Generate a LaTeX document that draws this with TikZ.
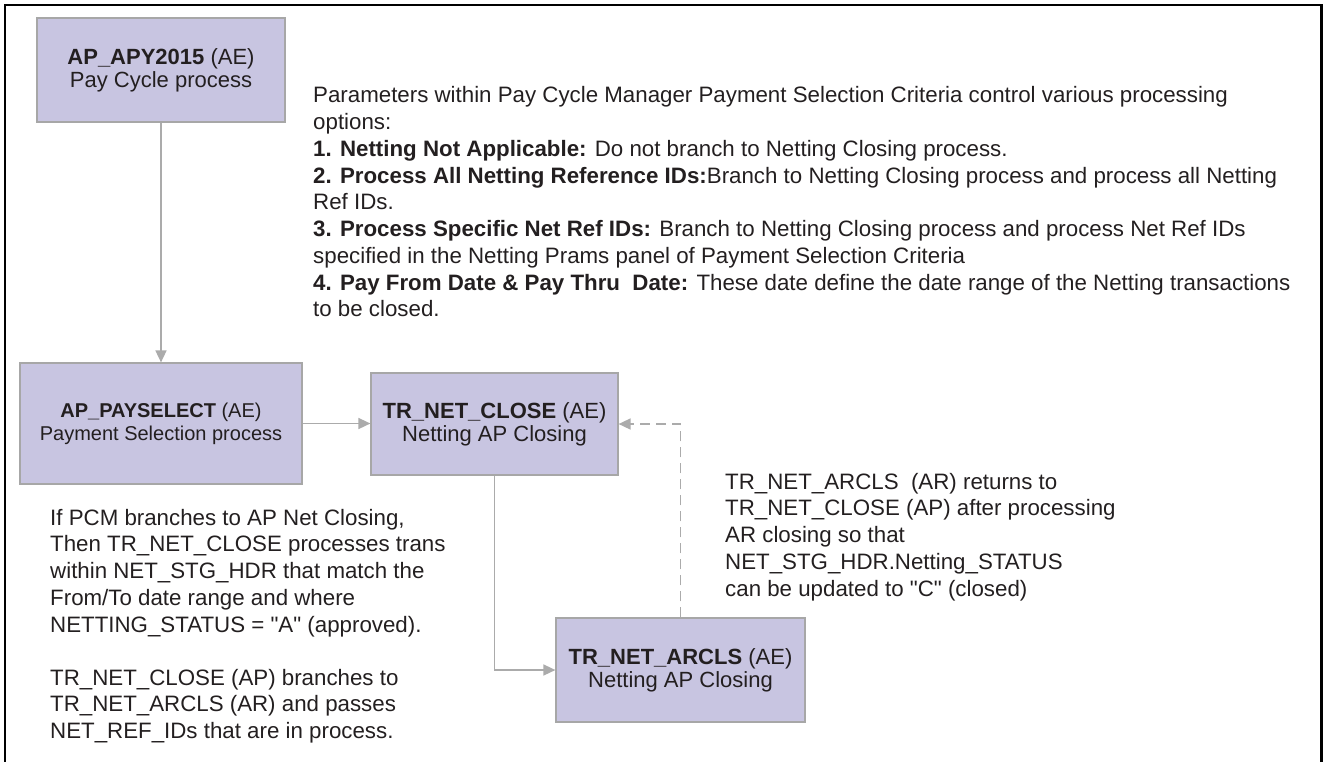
\documentclass[tikz,border=0pt]{standalone}
\usepackage{fontspec}
\setmainfont{Liberation Sans}
% same face without the TeX quote mapping, for straight double quotes
\newfontfamily\plainquote{Liberation Sans}
\newcommand\sq{{\plainquote"}}
\usetikzlibrary{arrows.meta}

\definecolor{boxfill}{HTML}{C8C5E1}
\definecolor{boxline}{HTML}{A7A7A7}
\definecolor{linkgray}{HTML}{ABABAB}
\definecolor{ink}{HTML}{231F20}

\begin{document}
\begin{tikzpicture}[x=1pt,y=-1pt,
  procbox/.style={draw=boxline, line width=1.2pt, fill=boxfill, text=ink,
    align=center, inner sep=0pt, font=\fontsize{22}{23.3}\selectfont},
  link/.style={draw=linkgray, line width=1.6pt,
    -{Triangle[length=12pt,width=11pt]}},
  backlink/.style={link, dash pattern=on 10pt off 6pt},
  note/.style={text=ink, align=left, anchor=north west, inner sep=0pt,
    font=\fontsize{22.3}{26.75}\selectfont}
]
\useasboundingbox (0,0) rectangle (1328,761);

% outer frame, open at the bottom edge
\draw[line width=2.5pt] (5,775) -- (5,5) -- (1321.5,5) -- (1321.5,775);

% process boxes
\node[procbox, minimum width=248pt, minimum height=104pt] (pay) at (161,70)
  {\textbf{AP\_APY2015} (AE)\\Pay Cycle process};
\node[procbox, minimum width=282pt, minimum height=121pt,
  font=\fontsize{20}{23.3}\selectfont] (sel) at (161,423.5)
  {\textbf{AP\_PAYSELECT} (AE)\\Payment Selection process};
\node[procbox, minimum width=247pt, minimum height=102pt] (close) at (494.5,424)
  {\textbf{TR\_NET\_CLOSE} (AE)\\Netting AP Closing};
\node[procbox, minimum width=249pt, minimum height=104pt] (arcls) at (680.5,670)
  {\textbf{TR\_NET\_ARCLS} (AE)\\Netting AP Closing};

% connectors
\draw[link] (pay.south) -- (sel.north);
\draw[link] (sel.east) -- (sel.east -| close.west);
\draw[link] (close.south) -- (close.south |- arcls.west) -- (arcls.west);
\draw[backlink] (arcls.north) -- (arcls.north |- close.east) -- (close.east);

% explanatory notes
\node[note] (params) at (313,84)
  {\strut Parameters within Pay Cycle Manager Payment Selection Criteria control various processing\\
   options:\\
   \textbf{1. Netting Not Applicable:} Do not branch to Netting Closing process.\\
   \textbf{2. Process All Netting Reference IDs:}Branch to Netting Closing process and process all Netting\\
   Ref IDs.\\
   \textbf{3. Process Specific Net Ref IDs:} Branch to Netting Closing process and process Net Ref IDs\\
   specified in the Netting Prams panel of Payment Selection Criteria\\
   \textbf{4. Pay From Date \& Pay Thru\ \ Date:} These date define the date range of the Netting transactions\\
   to be closed.};

\node[note] (pcm) at (50,506.3)
  {\strut If PCM branches to AP Net Closing,\\
   Then TR\_NET\_CLOSE processes trans\\
   within NET\_STG\_HDR that match the\\
   From/To date range and where\\
   NETTING\_STATUS = \sq A\sq{} (approved).};

\node[note] (branch) at (50,666.3)
  {\strut TR\_NET\_CLOSE (AP) branches to\\
   TR\_NET\_ARCLS (AR) and passes\\
   NET\_REF\_IDs that are in process.};

\node[note] (returns) at (725,470.3)
  {\strut TR\_NET\_ARCLS\ \ (AR) returns to\\
   TR\_NET\_CLOSE (AP) after processing\\
   AR closing so that\\
   NET\_STG\_HDR.Netting\_STATUS\\
   can be updated to \sq C\sq{} (closed)};
\end{tikzpicture}
\end{document}
